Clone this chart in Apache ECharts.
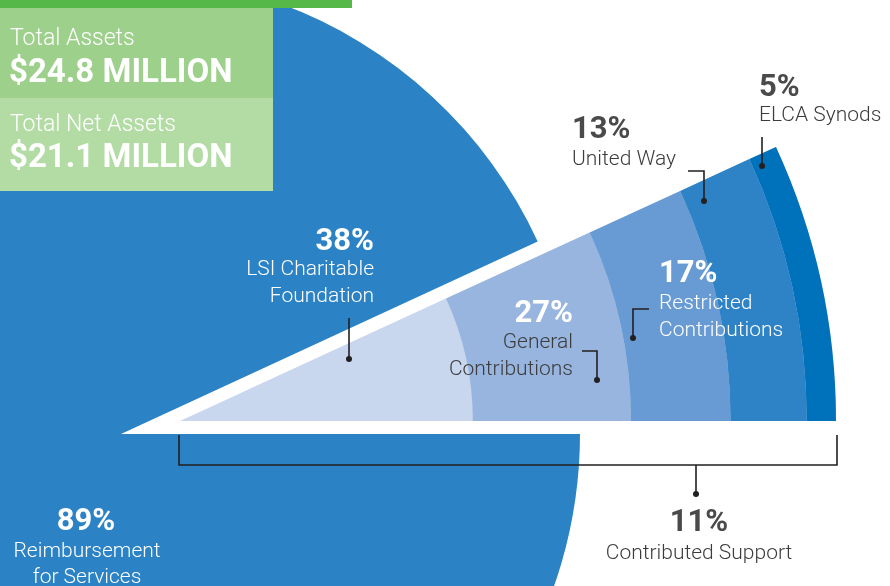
<!DOCTYPE html>
<html>
<head>
<meta charset="utf-8">
<script src="https://cdn.jsdelivr.net/npm/echarts@6/dist/echarts.min.js"></script>
<style>
  html, body { margin: 0; padding: 0; background: #ffffff; }
  #chart { width: 890px; height: 586px; }
</style>
</head>
<body>
<div id="chart"></div>
<script>
// ---- data ----
const SUPPORT_CATEGORIES = ['Reimbursement for Services', 'Contributed Support'];
const SUPPORT_VALUES = [89, 11];
const CONTRIB_CATEGORIES = ['LSI Charitable Foundation', 'General Contributions', 'Restricted Contributions', 'United Way', 'ELCA Synods'];
const CONTRIB_VALUES = [38, 27, 17, 13, 5];
const TOTAL_LABELS = ['Total Assets', 'Total Net Assets'];
const TOTAL_VALUES = ['$24.8 MILLION', '$21.1 MILLION'];

// ---- styles ----
const PIE_BLUE = '#2b82c5';
const BAND_COLORS = ['#c8d6ee', '#97b5df', '#689bd3', '#2d83c5', '#0071bb'];
const DARK = '#231f20';
const TEXT_DARK = '#3c3c3c';
const FONT = 'Roboto, "Liberation Sans", sans-serif';
const WEDGE_ANGLE = 24.7;
const PCT_SIZE = 31;
const LBL_SIZE = 21;

const chart = echarts.init(document.getElementById('chart'), null, { renderer: 'canvas' });

const bandSeries = CONTRIB_VALUES.map((v, i) => ({
  type: 'bar',
  coordinateSystem: 'polar',
  name: CONTRIB_CATEGORIES[i],
  stack: 'contrib',
  data: [v],
  barCategoryGap: '0%',
  barGap: '0%',
  silent: true,
  itemStyle: { color: BAND_COLORS[i] },
  showBackground: i === 0,
  backgroundStyle: { color: BAND_COLORS[0], opacity: 1 },
  z: 2
}));

function txt(x, y, text, size, weight, fill, align) {
  return {
    type: 'text', z: 100, silent: true,
    style: {
      x: x, y: y + 2, text: text,
      font: weight + ' ' + size + 'px ' + FONT,
      fill: fill, textAlign: align, textVerticalAlign: 'middle'
    }
  };
}
function line(points) {
  return { type: 'polyline', z: 100, silent: true,
    shape: { points: points },
    style: { stroke: DARK, lineWidth: 1.6, fill: null } };
}
function dot(x, y) {
  return { type: 'circle', z: 101, silent: true,
    shape: { cx: x, cy: y, r: 3 }, style: { fill: DARK } };
}

const pct = v => v + '%';

const graphics = [
  // green totals boxes
  { type: 'rect', z: 90, silent: true, shape: { x: 0, y: 0, width: 352, height: 8 }, style: { fill: '#55b848' } },
  { type: 'rect', z: 90, silent: true, shape: { x: 0, y: 8, width: 273, height: 90 }, style: { fill: '#9dd08b' } },
  { type: 'rect', z: 90, silent: true, shape: { x: 0, y: 98, width: 273, height: 93 }, style: { fill: '#b3dca5' } },
  txt(10, 37, TOTAL_LABELS[0], 23, 300, '#ffffff', 'left'),
  txt(9, 72, TOTAL_VALUES[0], 33, 'bold', '#ffffff', 'left'),
  txt(10, 123, TOTAL_LABELS[1], 23, 300, '#ffffff', 'left'),
  txt(9, 157, TOTAL_VALUES[1], 33, 'bold', '#ffffff', 'left'),

  // 89%
  txt(86, 520, pct(SUPPORT_VALUES[0]), PCT_SIZE, 'bold', '#ffffff', 'center'),
  txt(87, 550, 'Reimbursement', LBL_SIZE, 300, '#ffffff', 'center'),
  txt(87, 576, 'for Services', LBL_SIZE, 300, '#ffffff', 'center'),

  // 38%
  txt(374, 240, pct(CONTRIB_VALUES[0]), PCT_SIZE, 'bold', '#ffffff', 'right'),
  txt(374, 268, 'LSI Charitable', LBL_SIZE, 300, '#ffffff', 'right'),
  txt(374, 295, 'Foundation', LBL_SIZE, 300, '#ffffff', 'right'),
  line([[349, 318], [349, 358]]), dot(349, 359),

  // 27%
  txt(573, 312, pct(CONTRIB_VALUES[1]), PCT_SIZE, 'bold', '#ffffff', 'right'),
  txt(573, 341, 'General', LBL_SIZE, 300, TEXT_DARK, 'right'),
  txt(573, 368, 'Contributions', LBL_SIZE, 300, TEXT_DARK, 'right'),
  line([[582, 351], [597, 351], [597, 378]]), dot(597, 380),

  // 17%
  txt(659, 272, pct(CONTRIB_VALUES[2]), PCT_SIZE, 'bold', '#ffffff', 'left'),
  txt(659, 302, 'Restricted', LBL_SIZE, 300, '#ffffff', 'left'),
  txt(659, 329, 'Contributions', LBL_SIZE, 300, '#ffffff', 'left'),
  line([[649, 309], [633, 309], [633, 336]]), dot(633, 338),

  // 13%
  txt(572, 128, pct(CONTRIB_VALUES[3]), PCT_SIZE, 'bold', '#4a4a4a', 'left'),
  txt(572, 158, 'United Way', LBL_SIZE, 300, TEXT_DARK, 'left'),
  line([[688, 171], [704, 171], [704, 199]]), dot(704, 201),

  // 5%
  txt(759, 86, pct(CONTRIB_VALUES[4]), PCT_SIZE, 'bold', '#4a4a4a', 'left'),
  txt(759, 114, 'ELCA Synods', LBL_SIZE, 300, TEXT_DARK, 'left'),
  line([[762, 137], [762, 164]]), dot(762, 166),

  // bracket for 11%
  line([[179, 435], [179, 465], [837, 465], [837, 435]]),
  line([[696, 465], [696, 492]]), dot(696, 494),
  txt(699, 521, pct(SUPPORT_VALUES[1]), PCT_SIZE, 'bold', '#4a4a4a', 'center'),
  txt(699, 552, SUPPORT_CATEGORIES[1], LBL_SIZE, 300, TEXT_DARK, 'center')
];

const option = {
  animation: false,
  backgroundColor: '#ffffff',
  polar: { center: [180, 421], radius: 656 },
  angleAxis: {
    type: 'category',
    data: [SUPPORT_CATEGORIES[1]],
    startAngle: WEDGE_ANGLE,
    endAngle: 0,
    clockwise: true,
    boundaryGap: true,
    show: false
  },
  radiusAxis: { type: 'value', min: -12, max: 100, show: false },
  series: [
    {
      type: 'pie',
      center: [121, 434],
      radius: [0, 459],
      startAngle: WEDGE_ANGLE + 0.1,
      endAngle: 360,
      clockwise: false,
      silent: true,
      label: { show: false },
      labelLine: { show: false },
      itemStyle: { color: PIE_BLUE, borderWidth: 0 },
      data: [{ name: SUPPORT_CATEGORIES[0], value: SUPPORT_VALUES[0] }],
      z: 1
    },
    ...bandSeries
  ],
  graphic: graphics
};

chart.setOption(option);
</script>
</body>
</html>
